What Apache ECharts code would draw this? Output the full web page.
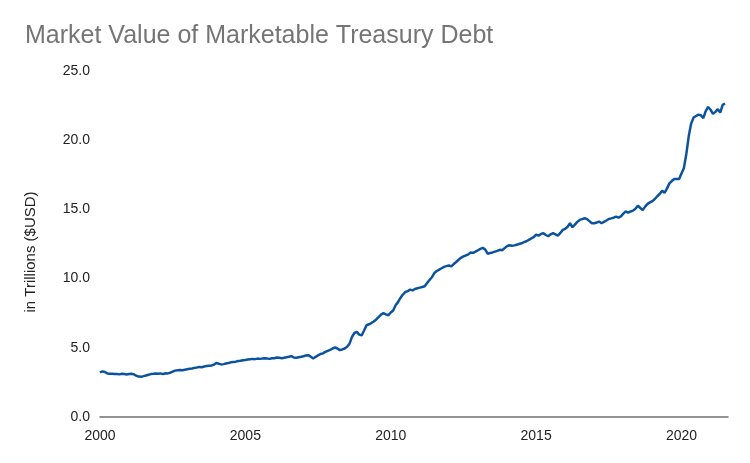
<!DOCTYPE html>
<html>
<head>
<meta charset="utf-8">
<script src="https://cdn.jsdelivr.net/npm/echarts@6/dist/echarts.min.js"></script>
<style>
  html, body { margin: 0; padding: 0; background: #fff; }
  #chart { width: 750px; height: 463px; }
</style>
</head>
<body>
<div id="chart"></div>
<script>
// monthly values, Jan 2000 .. Jul 2021 (trillions $USD)
var startYear = 2000;
var debtValues = [
    // 2000
    3.22, 3.30, 3.25, 3.15, 3.12, 3.12, 3.10, 3.10, 3.08, 3.12, 3.10, 3.07,
    // 2001
    3.10, 3.12, 3.08, 2.98, 2.92, 2.90, 2.95, 3.00, 3.05, 3.10, 3.12, 3.15,
    // 2002
    3.12, 3.15, 3.10, 3.16, 3.15, 3.20, 3.28, 3.35, 3.38, 3.40, 3.38, 3.42,
    // 2003
    3.45, 3.48, 3.50, 3.55, 3.58, 3.62, 3.60, 3.65, 3.68, 3.70, 3.72, 3.78,
    // 2004
    3.91, 3.85, 3.80, 3.82, 3.86, 3.90, 3.95, 3.98, 4.00, 4.04, 4.06, 4.10,
    // 2005
    4.12, 4.15, 4.18, 4.20, 4.18, 4.22, 4.20, 4.22, 4.25, 4.22, 4.20, 4.25,
    // 2006
    4.25, 4.30, 4.28, 4.25, 4.28, 4.32, 4.35, 4.40, 4.30, 4.28, 4.32, 4.35,
    // 2007
    4.39, 4.45, 4.47, 4.35, 4.23, 4.35, 4.45, 4.55, 4.60, 4.70, 4.78, 4.85,
    // 2008
    4.95, 5.02, 4.95, 4.83, 4.88, 4.95, 5.07, 5.30, 5.79, 6.07, 6.15, 5.95,
    // 2009
    5.90, 6.25, 6.63, 6.70, 6.79, 6.90, 7.05, 7.22, 7.40, 7.50, 7.42, 7.35,
    // 2010
    7.55, 7.70, 8.07, 8.30, 8.60, 8.85, 9.03, 9.10, 9.20, 9.15, 9.25, 9.30,
    // 2011
    9.35, 9.39, 9.45, 9.68, 9.90, 10.10, 10.40, 10.55, 10.65, 10.75, 10.85, 10.90,
    // 2012
    10.95, 10.88, 11.05, 11.20, 11.36, 11.50, 11.60, 11.67, 11.75, 11.89, 11.86, 11.95,
    // 2013
    12.05, 12.15, 12.22, 12.10, 11.80, 11.85, 11.89, 11.95, 12.00, 12.08, 12.05, 12.20,
    // 2014
    12.35, 12.41, 12.37, 12.40, 12.45, 12.50, 12.55, 12.63, 12.70, 12.80, 12.90, 12.99,
    // 2015
    13.18, 13.10, 13.23, 13.28, 13.15, 13.06, 13.20, 13.28, 13.20, 13.11, 13.30, 13.52,
    // 2016
    13.60, 13.75, 14.00, 13.71, 13.90, 14.10, 14.24, 14.30, 14.36, 14.30, 14.15, 14.00,
    // 2017
    14.00, 14.05, 14.12, 14.00, 14.10, 14.20, 14.31, 14.35, 14.40, 14.48, 14.40, 14.50,
    // 2018
    14.70, 14.86, 14.76, 14.85, 14.91, 15.05, 15.27, 15.10, 14.96, 15.20, 15.40, 15.51,
    // 2019
    15.60, 15.75, 15.95, 16.11, 16.35, 16.20, 16.50, 16.88, 17.05, 17.20, 17.20, 17.20,
    // 2020
    17.60, 18.00, 19.00, 20.30, 21.20, 21.64, 21.75, 21.85, 21.80, 21.60, 22.10, 22.40,
    // 2021
    22.20, 21.90, 22.05, 22.24, 22.00, 22.55, 22.65
];
var yTicks = [0, 5, 10, 15, 20, 25];
var xTicks = [2000, 2005, 2010, 2015, 2020];

var seriesData = [];
for (var i = 0; i < debtValues.length; i++) {
    seriesData.push([startYear + i / 12, debtValues[i]]);
}

var myChart = echarts.init(document.getElementById('chart'), null, {renderer: 'canvas'});

myChart.setOption({
    animation: false,
    backgroundColor: '#ffffff',
    textStyle: {fontFamily: 'Liberation Sans, Arial, sans-serif'},
    title: {
        text: 'Market Value of Marketable Treasury Debt',
        left: 20,
        top: 19,
        textStyle: {
            fontSize: 25,
            fontWeight: 'normal',
            color: '#757575',
            fontFamily: 'Liberation Sans, Arial, sans-serif'
        }
    },
    grid: {
        left: 100,
        right: 22,
        top: 71,
        bottom: 46
    },
    xAxis: {
        type: 'value',
        min: 2000,
        max: 2021.6,
        interval: 5,
        axisLine: {show: true, lineStyle: {color: '#6f6f6f', width: 1.5}},
        axisTick: {show: false},
        splitLine: {show: false},
        axisLabel: {
            color: '#222222',
            fontSize: 14,
            margin: 12,
            showMaxLabel: false,
            formatter: function (v) {
                return xTicks.indexOf(v) >= 0 ? String(v) : '';
            }
        }
    },
    yAxis: {
        type: 'value',
        min: yTicks[0],
        max: yTicks[yTicks.length - 1],
        interval: 5,
        name: 'in Trillions ($USD)',
        nameLocation: 'middle',
        nameGap: 62,
        nameTextStyle: {color: '#222222', fontSize: 15, padding: [0, 16, 0, 0]},
        axisLine: {show: false},
        axisTick: {show: false},
        splitLine: {show: false},
        axisLabel: {
            color: '#222222',
            fontSize: 14,
            margin: 10,
            formatter: function (v) { return v.toFixed(1); }
        }
    },
    series: [
        {
            name: 'Market Value',
            type: 'line',
            data: seriesData,
            showSymbol: false,
            smooth: false,
            lineStyle: {color: '#0b539f', width: 2.5},
            itemStyle: {color: '#0b539f'}
        }
    ]
});
</script>
</body>
</html>
